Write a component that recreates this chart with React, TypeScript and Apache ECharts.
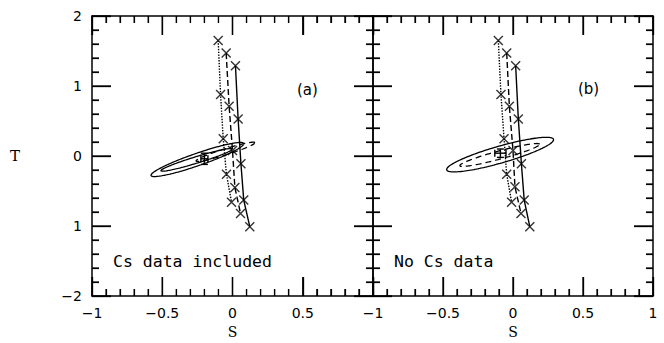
import React, { useEffect, useRef } from "react";
import * as echarts from "echarts";

// axis ranges, tick values and their printed labels
const xRange = [-1, 1];
const yRange = [-2, 2];
const xTicks = [-1, -0.5, 0, 0.5, 1];
const xTickLabels = ["−1", "−0.5", "0", "0.5", "1"];
const xMinorTicks = [-0.9, -0.8, -0.7, -0.6, -0.4, -0.3, -0.2, -0.1, 0.1, 0.2, 0.3, 0.4, 0.6, 0.7, 0.8, 0.9];
const yTicks = [-2, -1, 0, 1, 2];
const yTickLabels = ["−2", "1", "0", "1", "2"];
const yMinorTicks = [-1.8, -1.6, -1.4, -1.2, -0.8, -0.6, -0.4, -0.2, 0.2, 0.4, 0.6, 0.8, 1.2, 1.4, 1.6, 1.8];

// panel (a): tracks [S, T]
const dottedA = [[-0.102, 1.65], [-0.085, 0.88], [-0.066, 0.245], [-0.043, -0.26], [-0.007, -0.66]];
const dashedA = [[-0.045, 1.47], [-0.024, 0.71], [0.0, 0.08], [0.017, -0.45], [0.057, -0.82]];
const solidA = [[0.021, 1.29], [0.04, 0.53], [0.06, -0.11], [0.08, -0.63], [0.123, -1.01]];
// panel (b)
const dottedB = [[-0.105, 1.65], [-0.086, 0.88], [-0.064, 0.245], [-0.045, -0.26], [-0.01, -0.66]];
const dashedB = [[-0.045, 1.47], [-0.026, 0.71], [0.0, 0.08], [0.014, -0.44], [0.057, -0.82]];
const solidB = [[0.019, 1.29], [0.038, 0.53], [0.06, -0.11], [0.08, -0.63], [0.12, -1.01]];

// confidence ellipses: [centre S, centre T, half-axis dS, half-axis dT, half vertical width]
const ellOuterA = [-0.25, -0.05, 0.33, 0.225, 0.093];
const ellInnerA = [-0.255, -0.055, 0.255, 0.155, 0.048];
const ellDashA = [-0.05, 0.06, 0.21, 0.13, 0.045];
const ellOuterB = [-0.092, 0.02, 0.382, 0.213, 0.125];
const ellInnerB = [-0.095, 0.015, 0.285, 0.152, 0.06];

// best-fit point: [S, T, errS, errT]
const fitA = [-0.2, -0.04, 0.025, 0.08];
const fitB = [-0.09, 0.04, 0.04, 0.06];

const panelLabels = ["(a)", "(b)"];
const panelNotes = ["Cs data included", "No Cs data"];

function ellipsePoints(e: number[]) {
  const [cx, cy, ax, ay, b] = e;
  const pts: number[][] = [];
  const n = 160;
  for (let i = 0; i <= n; i++) {
    const t = (2 * Math.PI * i) / n;
    pts.push([cx + ax * Math.cos(t), cy + ay * Math.cos(t) + b * Math.sin(t)]);
  }
  return pts;
}

const BLACK = "#000";
const tickFont = { fontFamily: "DejaVu Sans", fontSize: 14, color: BLACK };
const MAJOR_LEN = 19;
const MINOR_LEN = 7;

function xAxis(gridIndex: number, position: string, labels: boolean, hideMax: boolean) {
  return {
    type: "value",
    gridIndex,
    position,
    min: xRange[0],
    max: xRange[1],
    interval: 0.5,
    axisLine: { show: true, onZero: false, lineStyle: { color: BLACK, width: 1.5 } },
    axisTick: { show: true, inside: true, length: MAJOR_LEN, lineStyle: { color: BLACK, width: 1.3 } },
    minorTick: { show: true, splitNumber: 5, length: MINOR_LEN, lineStyle: { color: BLACK, width: 1.2 } },
    splitLine: { show: false },
    minorSplitLine: { show: false },
    axisLabel: labels
      ? {
          show: true,
          margin: 10,
          ...tickFont,
          formatter: (v: number) => {
            if (hideMax && v === 1) return "";
            const i = xTicks.indexOf(v);
            return i >= 0 ? xTickLabels[i] : "";
          },
        }
      : { show: false },
    name: labels ? "S" : "",
    nameLocation: "middle",
    nameGap: 29,
    nameTextStyle: { fontFamily: "DejaVu Serif", fontSize: 14, color: BLACK },
  };
}

function yAxis(gridIndex: number, position: string, labels: boolean) {
  return {
    type: "value",
    gridIndex,
    position,
    min: yRange[0],
    max: yRange[1],
    interval: 1,
    axisLine: { show: true, onZero: false, lineStyle: { color: BLACK, width: 1.5 } },
    axisTick: { show: true, inside: true, length: MAJOR_LEN, lineStyle: { color: BLACK, width: 1.3 } },
    minorTick: { show: true, splitNumber: 5, length: MINOR_LEN, lineStyle: { color: BLACK, width: 1.2 } },
    splitLine: { show: false },
    minorSplitLine: { show: false },
    axisLabel: labels
      ? {
          show: true,
          margin: 10,
          ...tickFont,
          formatter: (v: number) => {
            const i = yTicks.indexOf(v);
            return i >= 0 ? yTickLabels[i] : "";
          },
        }
      : { show: false },
    name: labels ? "T" : "",
    nameLocation: "middle",
    nameRotate: 0,
    nameGap: 72,
    nameTextStyle: { fontFamily: "DejaVu Serif", fontSize: 15, color: BLACK },
  };
}

function track(data: number[][], type: any, xi: number, yi: number) {
  return {
    type: "line",
    xAxisIndex: xi,
    yAxisIndex: yi,
    data,
    showSymbol: false,
    silent: true,
    lineStyle: { color: BLACK, width: 1.4, type },
    z: 3,
  };
}

function markers(data: number[][], xi: number, yi: number) {
  return {
    type: "scatter",
    xAxisIndex: xi,
    yAxisIndex: yi,
    data,
    symbol: "path://M0,0L10,10M10,0L0,10",
    symbolSize: 9,
    itemStyle: { color: "rgba(0,0,0,0)", borderColor: BLACK, borderWidth: 1.4 },
    z: 5,
  };
}

function ellipse(e: number[], type: any, xi: number, yi: number) {
  return {
    type: "line",
    xAxisIndex: xi,
    yAxisIndex: yi,
    data: ellipsePoints(e),
    showSymbol: false,
    silent: true,
    lineStyle: { color: BLACK, width: 1.3, type },
    z: 4,
  };
}

function fitPoint(f: number[], xi: number, yi: number) {
  return {
    type: "custom",
    xAxisIndex: xi,
    yAxisIndex: yi,
    data: [f],
    z: 6,
    renderItem: (_p: any, api: any) => {
      const s = api.value(0);
      const t = api.value(1);
      const es = api.value(2);
      const et = api.value(3);
      const top = api.coord([s, t + et]);
      const bot = api.coord([s, t - et]);
      const l = api.coord([s - es, t]);
      const r = api.coord([s + es, t]);
      const cap = 3.5;
      const style = { stroke: BLACK, lineWidth: 1.4 };
      const ln = (x1: number, y1: number, x2: number, y2: number) => ({
        type: "line",
        shape: { x1, y1, x2, y2 },
        style,
      });
      return {
        type: "group",
        children: [
          ln(top[0], top[1], bot[0], bot[1]),
          ln(top[0] - cap, top[1], top[0] + cap, top[1]),
          ln(bot[0] - cap, bot[1], bot[0] + cap, bot[1]),
          ln(l[0], l[1], r[0], r[1]),
          ln(l[0], l[1] - cap, l[0], l[1] + cap),
          ln(r[0], r[1] - cap, r[0], r[1] + cap),
        ],
      };
    },
  };
}

export default function App() {
  const ref = useRef<HTMLDivElement>(null);
  useEffect(() => {
    document.body.style.margin = "0";
    const chart = echarts.init(ref.current!, null, { renderer: "svg" });
    const gridA = { left: 92, top: 16, width: 281, height: 280, containLabel: false, outerBoundsMode: "none" };
    const gridB = { left: 373, top: 16, width: 280, height: 280, containLabel: false, outerBoundsMode: "none" };
    const texts = [
      {
        type: "text",
        left: 297,
        top: 82,
        style: { text: panelLabels[0], font: "15px 'DejaVu Sans'", fill: BLACK },
      },
      {
        type: "text",
        left: 578,
        top: 81,
        style: { text: panelLabels[1], font: "15px 'DejaVu Sans'", fill: BLACK },
      },
      {
        type: "text",
        left: 113,
        top: 253,
        style: { text: panelNotes[0], font: "16.5px 'DejaVu Sans Mono'", fill: BLACK },
      },
      {
        type: "text",
        left: 394,
        top: 253,
        style: { text: panelNotes[1], font: "16.5px 'DejaVu Sans Mono'", fill: BLACK },
      },
    ];
    chart.setOption({
      animation: false,
      backgroundColor: "#fff",
      grid: [gridA, gridB],
      xAxis: [
        xAxis(0, "bottom", true, true),
        xAxis(0, "top", false, false),
        xAxis(1, "bottom", true, false),
        xAxis(1, "top", false, false),
      ],
      yAxis: [
        yAxis(0, "left", true),
        yAxis(0, "right", false),
        yAxis(1, "left", false),
        yAxis(1, "right", false),
      ],
      series: [
        track(dottedA, "dotted", 0, 0),
        track(dashedA, [6, 3], 0, 0),
        track(solidA, "solid", 0, 0),
        markers(dottedA, 0, 0),
        markers(dashedA, 0, 0),
        markers(solidA, 0, 0),
        ellipse(ellOuterA, "solid", 0, 0),
        ellipse(ellInnerA, "solid", 0, 0),
        ellipse(ellDashA, [6, 4], 0, 0),
        fitPoint(fitA, 0, 0),
        track(dottedB, "dotted", 2, 2),
        track(dashedB, [6, 3], 2, 2),
        track(solidB, "solid", 2, 2),
        markers(dottedB, 2, 2),
        markers(dashedB, 2, 2),
        markers(solidB, 2, 2),
        ellipse(ellOuterB, "solid", 2, 2),
        ellipse(ellInnerB, [6, 4], 2, 2),
        fitPoint(fitB, 2, 2),
      ],
      graphic: texts,
    });

    // tick marks on all four sides of each panel, placed through the axis scales
    const tickLines: any[] = [];
    const panels = [
      { xAxisIndex: 0, yAxisIndex: 0 },
      { xAxisIndex: 2, yAxisIndex: 2 },
    ];
    const addLine = (x1: number, y1: number, x2: number, y2: number, major: boolean) => {
      tickLines.push({
        type: "line",
        silent: true,
        z: 100,
        shape: { x1, y1, x2, y2 },
        style: { stroke: BLACK, lineWidth: major ? 1.3 : 1.2 },
      });
    };
    panels.forEach((finder) => {
      const xt = [...xTicks.map((v) => [v, 1]), ...xMinorTicks.map((v) => [v, 0])];
      xt.forEach(([v, m]) => {
        const len = m ? MAJOR_LEN : MINOR_LEN;
        const b = chart.convertToPixel(finder as any, [v, yRange[0]]) as number[];
        const t = chart.convertToPixel(finder as any, [v, yRange[1]]) as number[];
        if (b && t) {
          addLine(b[0], b[1], b[0], b[1] - len, !!m);
          addLine(t[0], t[1], t[0], t[1] + len, !!m);
        }
      });
      const yt = [...yTicks.map((v) => [v, 1]), ...yMinorTicks.map((v) => [v, 0])];
      yt.forEach(([v, m]) => {
        const len = m ? MAJOR_LEN : MINOR_LEN;
        const l = chart.convertToPixel(finder as any, [xRange[0], v]) as number[];
        const r = chart.convertToPixel(finder as any, [xRange[1], v]) as number[];
        if (l && r) {
          addLine(l[0], l[1], l[0] + len, l[1], !!m);
          addLine(r[0], r[1], r[0] - len, r[1], !!m);
        }
      });
    });
    chart.setOption({ graphic: [...texts, ...tickLines] });
    return () => chart.dispose();
  }, []);
  return (
    <div
      ref={ref}
      style={{ position: "absolute", left: 0, top: 0, width: 664, height: 343 }}
    />
  );
}
